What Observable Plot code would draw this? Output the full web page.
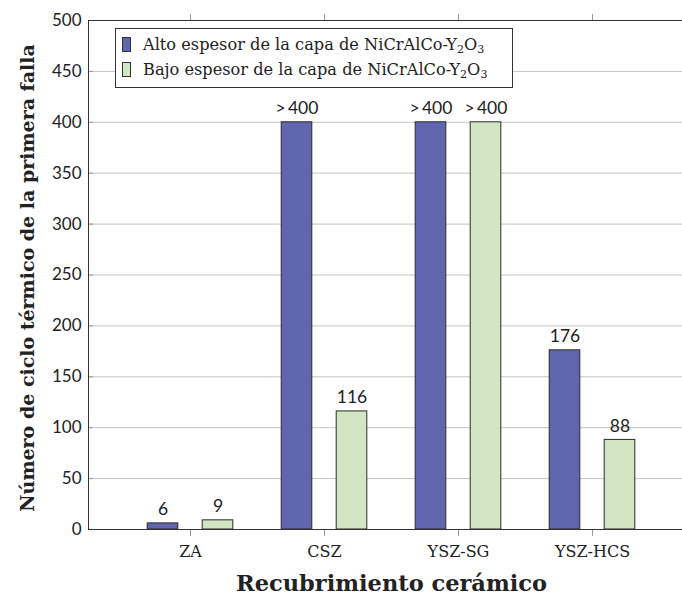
<!DOCTYPE html>
<html><head><meta charset="utf-8">
<script src="https://cdn.jsdelivr.net/npm/d3@7"></script>
<script src="https://cdn.jsdelivr.net/npm/@observablehq/plot@0.6"></script>
<style>
body{margin:0;background:#fff}
#wrap{position:relative;width:682px;height:601px;overflow:hidden;background:#fff}
#legend{position:absolute;left:115px;top:28px;width:398px;height:60px;border:1px solid #333;background:#fff;box-sizing:border-box;font-family:"DejaVu Serif";font-size:16.2px;color:#222}
#legend .row{position:absolute;left:6px;height:22px;line-height:22px;white-space:nowrap}
#legend .sw{display:inline-block;width:9px;height:15px;border:1px solid #333;box-sizing:border-box;vertical-align:-2px;margin-right:12px}
#legend sub{font-size:0.68em;vertical-align:-0.3em;line-height:0}
</style>
</head><body>
<div id="wrap"></div>
<script>
const categories = ["ZA", "CSZ", "YSZ-SG", "YSZ-HCS"];
const seriesNames = ["Alto espesor de la capa de NiCrAlCo-Y2O3", "Bajo espesor de la capa de NiCrAlCo-Y2O3"];
const altoValues = [6, 400, 400, 176];
const bajoValues = [9, 116, 400, 88];
const altoLabels = ["6", ">\u2009400", ">\u2009400", "176"];
const bajoLabels = ["9", "116", ">\u2009400", "88"];
const yTicks = [0, 50, 100, 150, 200, 250, 300, 350, 400, 450, 500];
const colors = ["#5f66ae", "#d3e6c4"];
const yTitle = "Número de ciclo térmico de la primera falla";
const xTitle = "Recubrimiento cerámico";

const alto = categories.map((c, i) => ({cat: c, value: altoValues[i], label: altoLabels[i]}));
const bajo = categories.map((c, i) => ({cat: c, value: bajoValues[i], label: bajoLabels[i]}));

const barOpts = {insetLeft: 51.7, insetRight: 51.7, stroke: "#2b2b2b", strokeWidth: 1};
const labelOpts = {fontFamily: "Lato", fontSize: 17.5, fill: "#222", lineAnchor: "bottom", dy: -8};

const chart = Plot.plot({
  width: 682,
  height: 601,
  marginTop: 20,
  marginBottom: 72,
  marginLeft: 88,
  marginRight: 0,
  style: {background: "#fff", overflow: "hidden"},
  x: {type: "band", domain: categories, range: [88, 693], paddingInner: 0, paddingOuter: 0.25, label: null},
  y: {domain: [0, 500], label: null},
  marks: [
    Plot.gridY(yTicks, {stroke: "#c4c4c4", strokeOpacity: 1}),
    Plot.axisY(yTicks, {tickSize: 5, dx: 5, text: null, stroke: "#9a9a9a", label: null}),
    Plot.axisY(yTicks, {tickSize: 0, tickPadding: 7, fontFamily: "Lato", fontSize: 17, fill: "#222", label: null}),
    Plot.axisX({anchor: "bottom", tickSize: 7, tickPadding: 9, stroke: "#9a9a9a", fontFamily: "DejaVu Serif", fontSize: 16, fill: "#222", label: null}),
    Plot.axisX({anchor: "top", tickSize: 7, text: null, stroke: "#9a9a9a", label: null}),
    Plot.barY(alto, {x: "cat", y: "value", fill: colors[0], dx: -27.5, ...barOpts}),
    Plot.barY(bajo, {x: "cat", y: "value", fill: colors[1], dx: 27.5, ...barOpts}),
    Plot.text(alto, {x: "cat", y: "value", text: "label", dx: -27.5, ...labelOpts}),
    Plot.text(bajo, {x: "cat", y: "value", text: "label", dx: 27.5, ...labelOpts}),
    Plot.ruleY([0, 500], {stroke: "#333", strokeWidth: 1}),
    Plot.frame({anchor: "left", stroke: "#333"}),
    Plot.text([yTitle], {frameAnchor: "left", textAnchor: "middle", rotate: -90, dx: -61, dy: 3, fontFamily: "DejaVu Serif", fontWeight: "bold", fontSize: 19, fill: "#222"}),
    Plot.text([xTitle], {frameAnchor: "bottom", textAnchor: "middle", dx: 6, dy: 61, fontFamily: "DejaVu Serif", fontWeight: "bold", fontSize: 22.5, fill: "#222"})
  ]
});

const wrap = document.getElementById("wrap");
wrap.appendChild(chart);

const legend = document.createElement("div");
legend.id = "legend";
seriesNames.forEach((name, i) => {
  const row = document.createElement("div");
  row.className = "row";
  row.style.top = (5 + i * 25) + "px";
  const sw = document.createElement("span");
  sw.className = "sw";
  sw.style.background = colors[i];
  row.appendChild(sw);
  const txt = document.createElement("span");
  txt.innerHTML = name.replace("Y2O3", "Y<sub>2</sub>O<sub>3</sub>");
  row.appendChild(txt);
  legend.appendChild(row);
});
wrap.appendChild(legend);
</script>
</body></html>
